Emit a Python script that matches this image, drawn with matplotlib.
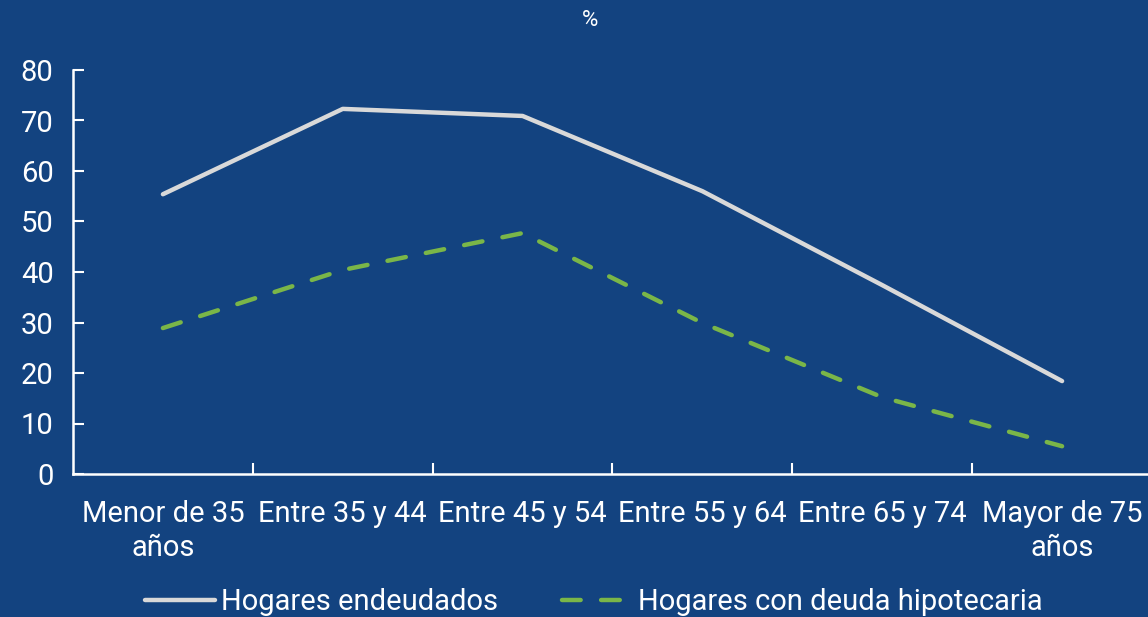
import matplotlib
import matplotlib.pyplot as plt

matplotlib.use('Agg')

# data
categories = ["Menor de 35\naños", "Entre 35 y 44", "Entre 45 y 54",
              "Entre 55 y 64", "Entre 65 y 74", "Mayor de 75\naños"]
endeudados = [55.4, 72.3, 70.9, 56.0, 37.4, 18.4]
hipotecaria = [28.9, 40.4, 47.7, 29.9, 15.2, 5.5]
y_ticks = [0, 10, 20, 30, 40, 50, 60, 70, 80]

bg = '#134380'
plt.rcParams['font.family'] = ['Roboto', 'DejaVu Sans']
fs = 21

fig = plt.figure(figsize=(11.48, 6.17), dpi=100, facecolor=bg)
ax = fig.add_axes([73 / 1148, 1 - 474 / 617, 1079 / 1148, 404 / 617])
ax.set_facecolor(bg)

x = list(range(len(categories)))
ax.plot(x, endeudados, color='#D9D9D9', lw=3.2, solid_capstyle='round',
        label='Hogares endeudados')
ax.plot(x, hipotecaria, color='#7AB648', lw=3.2, dash_capstyle='round',
        dashes=(4.2, 4.6), label='Hogares con deuda hipotecaria')

ax.set_xlim(-0.5, len(categories) - 0.5)
ax.set_ylim(0, 80)
ax.set_yticks(y_ticks)
ax.set_xticks(x)
ax.set_xticklabels(categories, linespacing=1.25)
ax.set_xticks([i + 0.5 for i in x[:-1]], minor=True)

for s in ['top', 'right']:
    ax.spines[s].set_visible(False)
for s in ['left', 'bottom']:
    ax.spines[s].set_color('white')
    ax.spines[s].set_linewidth(1.8)

ax.tick_params(axis='y', direction='in', length=8, width=1.5, color='white',
               labelcolor='white', labelsize=fs, pad=14)
ax.tick_params(axis='x', which='major', length=0, labelcolor='white',
               labelsize=fs, pad=19)
ax.tick_params(axis='x', which='minor', direction='in', length=8, width=1.5,
               color='white')

fig.text(590 / 1148, 1 - 20 / 617, '%', color='white', fontsize=16,
         ha='center', va='center')

leg = fig.legend(loc='center', bbox_to_anchor=(594 / 1148, 1 - 602 / 617),
                 ncol=2, frameon=False, fontsize=fs, handlelength=2.4,
                 handletextpad=0.2, columnspacing=2.2, borderaxespad=0)
for t in leg.get_texts():
    t.set_color('white')

fig.savefig('out.png', dpi=100, facecolor=bg)
